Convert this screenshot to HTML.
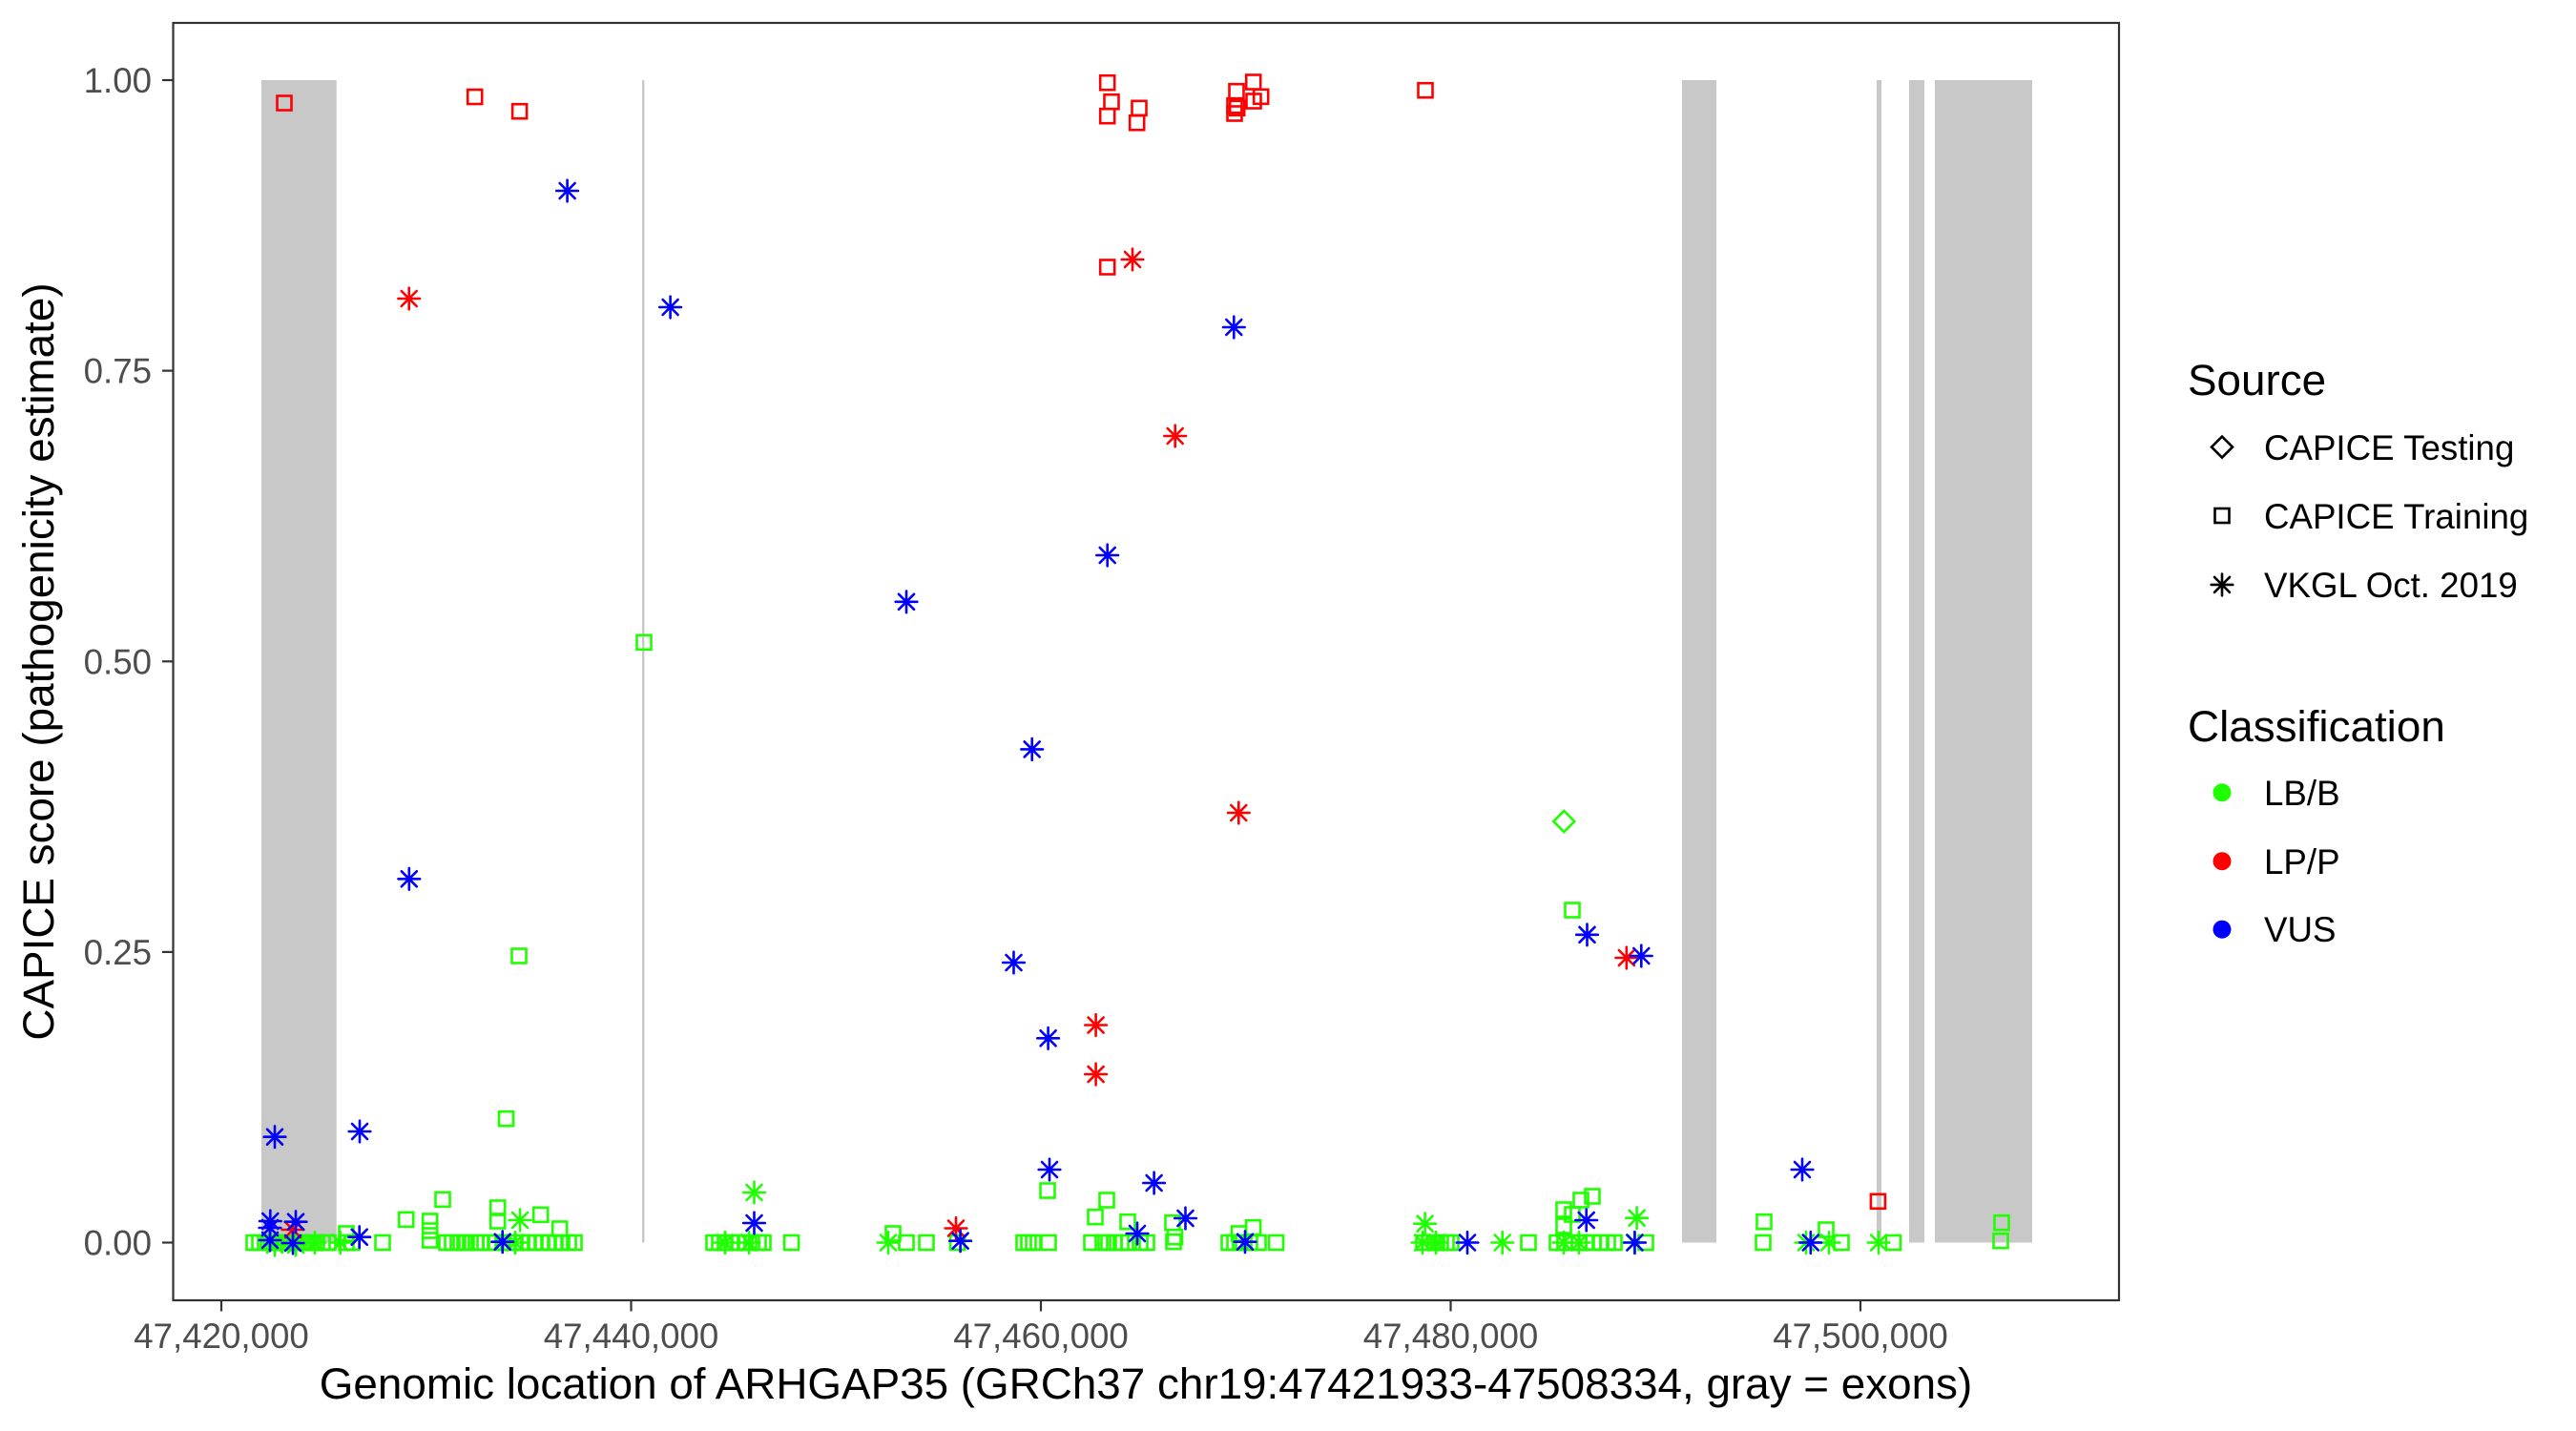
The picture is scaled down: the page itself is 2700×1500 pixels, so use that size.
<!DOCTYPE html>
<html>
<head>
<meta charset="utf-8">
<style>
html,body{margin:0;padding:0;background:#fff;}
svg{display:block;}
text{font-family:"Liberation Sans",Arial,sans-serif;}
</style>
</head>
<body>
<svg width="2700" height="1500" viewBox="0 0 2700 1500" xmlns="http://www.w3.org/2000/svg">
<defs>
  <rect id="sq" x="-7.5" y="-7.5" width="15" height="15" fill="none" stroke-width="2.6"/>
  <path id="as" d="M-11.3,0H11.3M0,-11.3V11.3M-8,-8L8,8M-8,8L8,-8" fill="none" stroke-width="2.6" stroke-linecap="round"/>
  <path id="di" d="M0,-11L11,0L0,11L-11,0Z" fill="none" stroke-width="2.6" stroke-linejoin="miter"/>
</defs>
<rect x="0" y="0" width="2700" height="1500" fill="#fff"/>

<!-- exons -->
<g fill="#c8c8c8">
  <rect x="274" y="84" width="78.7" height="1218.5"/>
  <rect x="673" y="84" width="2.4" height="1218.5"/>
  <rect x="1763" y="84" width="36" height="1218.5"/>
  <rect x="1967" y="84" width="5" height="1218.5"/>
  <rect x="2001" y="84" width="16" height="1218.5"/>
  <rect x="2028" y="84" width="102" height="1218.5"/>
</g>

<!-- green points -->
<g stroke="#1eff00">
  <use href="#di" x="1639.3" y="861"/>
  <use href="#sq" x="675" y="673.3"/>
  <use href="#sq" x="544" y="1002"/>
  <use href="#sq" x="530.5" y="1172.7"/>
  <use href="#sq" x="1648" y="954"/>
  <use href="#sq" x="1098" y="1248"/>
  <use href="#sq" x="2098" y="1281.7"/>
  <use href="#sq" x="1849" y="1280.7"/>
  <use href="#sq" x="1639" y="1268"/>
  <use href="#sq" x="1639" y="1285"/>
  <use href="#sq" x="1648" y="1273"/>
  <use href="#sq" x="1657" y="1258"/>
  <use href="#sq" x="1669" y="1254"/>
  <use href="#sq" x="1914" y="1289"/>
  <use href="#sq" x="1148" y="1275.7"/>
  <use href="#sq" x="1160" y="1258"/>
  <use href="#sq" x="1182" y="1280.7"/>
  <use href="#sq" x="1229" y="1281.7"/>
  <use href="#sq" x="1231.5" y="1296.7"/>
  <use href="#sq" x="1298.5" y="1293"/>
  <use href="#sq" x="1313.6" y="1286.7"/>
  <use href="#sq" x="936" y="1293"/>
  <use href="#sq" x="425.7" y="1278.3"/>
  <use href="#sq" x="464" y="1257.3"/>
  <use href="#sq" x="450.7" y="1280"/>
  <use href="#sq" x="450.7" y="1290"/>
  <use href="#sq" x="450.7" y="1300"/>
  <use href="#sq" x="521.7" y="1266"/>
  <use href="#sq" x="521.7" y="1280"/>
  <use href="#sq" x="566.7" y="1273.3"/>
  <use href="#sq" x="586.7" y="1288"/>
  <use href="#sq" x="363" y="1293"/>
  <use href="#sq" x="2097" y="1300.7"/>
  <!-- baseline squares -->
  <use href="#sq" x="266" y="1302.5"/><use href="#sq" x="272" y="1302.5"/><use href="#sq" x="278" y="1302.5"/><use href="#sq" x="284" y="1302.5"/><use href="#sq" x="290" y="1302.5"/><use href="#sq" x="296" y="1302.5"/><use href="#sq" x="302" y="1302.5"/><use href="#sq" x="308" y="1302.5"/><use href="#sq" x="314" y="1302.5"/><use href="#sq" x="320" y="1302.5"/><use href="#sq" x="326" y="1302.5"/><use href="#sq" x="332" y="1302.5"/><use href="#sq" x="338" y="1302.5"/><use href="#sq" x="344" y="1302.5"/>
  <use href="#sq" x="363" y="1302.5"/><use href="#sq" x="369" y="1302.5"/>
  <use href="#sq" x="401" y="1302.5"/>
  <use href="#sq" x="468" y="1302.5"/><use href="#sq" x="474" y="1302.5"/><use href="#sq" x="480" y="1302.5"/><use href="#sq" x="487" y="1302.5"/><use href="#sq" x="493" y="1302.5"/><use href="#sq" x="499" y="1302.5"/><use href="#sq" x="504" y="1302.5"/>
  <use href="#sq" x="514" y="1302.5"/><use href="#sq" x="520" y="1302.5"/><use href="#sq" x="527" y="1302.5"/><use href="#sq" x="533" y="1302.5"/><use href="#sq" x="540" y="1302.5"/><use href="#sq" x="547" y="1302.5"/><use href="#sq" x="554" y="1302.5"/><use href="#sq" x="561" y="1302.5"/><use href="#sq" x="568" y="1302.5"/><use href="#sq" x="575" y="1302.5"/><use href="#sq" x="582" y="1302.5"/><use href="#sq" x="589" y="1302.5"/><use href="#sq" x="596" y="1302.5"/><use href="#sq" x="602" y="1302.5"/>
  <use href="#sq" x="748" y="1302.5"/><use href="#sq" x="754" y="1302.5"/><use href="#sq" x="760" y="1302.5"/><use href="#sq" x="767" y="1302.5"/><use href="#sq" x="774" y="1302.5"/><use href="#sq" x="781" y="1302.5"/><use href="#sq" x="788" y="1302.5"/><use href="#sq" x="795" y="1302.5"/><use href="#sq" x="800" y="1302.5"/>
  <use href="#sq" x="829.6" y="1302.5"/>
  <use href="#sq" x="950" y="1302.5"/><use href="#sq" x="971" y="1302.5"/>
  <use href="#sq" x="1003.6" y="1302.5"/>
  <use href="#sq" x="1073" y="1302.5"/><use href="#sq" x="1078" y="1302.5"/><use href="#sq" x="1083" y="1302.5"/><use href="#sq" x="1099" y="1302.5"/>
  <use href="#sq" x="1144" y="1302.5"/><use href="#sq" x="1156" y="1302.5"/><use href="#sq" x="1162" y="1302.5"/><use href="#sq" x="1168" y="1302.5"/><use href="#sq" x="1175" y="1302.5"/><use href="#sq" x="1183" y="1302.5"/><use href="#sq" x="1195" y="1302.5"/><use href="#sq" x="1202" y="1302.5"/>
  <use href="#sq" x="1230" y="1301.7"/>
  <use href="#sq" x="1288" y="1302.5"/><use href="#sq" x="1294" y="1302.5"/><use href="#sq" x="1300" y="1302.5"/><use href="#sq" x="1310" y="1302.5"/><use href="#sq" x="1319" y="1302.5"/>
  <use href="#sq" x="1337.5" y="1302.5"/>
  <use href="#sq" x="1492" y="1302.5"/><use href="#sq" x="1498" y="1302.5"/><use href="#sq" x="1504" y="1302.5"/><use href="#sq" x="1510" y="1302.5"/><use href="#sq" x="1516" y="1302.5"/><use href="#sq" x="1521" y="1302.5"/>
  <use href="#sq" x="1602" y="1302.5"/>
  <use href="#sq" x="1632" y="1302.5"/><use href="#sq" x="1640" y="1302.5"/><use href="#sq" x="1648" y="1302.5"/><use href="#sq" x="1655" y="1302.5"/><use href="#sq" x="1662" y="1302.5"/><use href="#sq" x="1670" y="1302.5"/><use href="#sq" x="1678" y="1302.5"/><use href="#sq" x="1685" y="1302.5"/><use href="#sq" x="1692" y="1302.5"/>
  <use href="#sq" x="1725" y="1302.5"/>
  <use href="#sq" x="1848" y="1302.5"/>
  <use href="#sq" x="1930" y="1302.5"/>
  <use href="#sq" x="1984.5" y="1302.5"/>
  <!-- green asterisks -->
  <use href="#as" x="931" y="1302.5"/>
  <use href="#as" x="790.5" y="1250"/>
  <use href="#as" x="1493.6" y="1282.7"/>
  <use href="#as" x="1715.6" y="1276.7"/>
  <use href="#as" x="1574.7" y="1302.5"/>
  <use href="#as" x="1893" y="1302.5"/>
  <use href="#as" x="1917" y="1302.5"/>
  <use href="#as" x="1969" y="1302.5"/>
  <use href="#as" x="545" y="1279"/>
  <use href="#as" x="356.7" y="1302.5"/>
  <use href="#as" x="288" y="1305"/>
  <use href="#as" x="310" y="1305"/>
  <use href="#as" x="330" y="1302.5"/>
  <use href="#as" x="1491" y="1302.5"/>
  <use href="#as" x="1505" y="1302.5"/>
  <use href="#as" x="1639" y="1302.5"/>
  <use href="#as" x="1655" y="1302.5"/>
  <use href="#as" x="1713" y="1302.5"/>
  <use href="#as" x="540" y="1302.5"/>
  <use href="#as" x="760" y="1302.5"/>
  <use href="#as" x="785" y="1302.5"/>
</g>

<!-- red points -->
<g stroke="#ff0000">
  <use href="#sq" x="298" y="108"/>
  <use href="#sq" x="497.7" y="101.5"/>
  <use href="#sq" x="544.6" y="116.7"/>
  <use href="#sq" x="1160.7" y="86.7"/>
  <use href="#sq" x="1165" y="106.7"/>
  <use href="#sq" x="1160.7" y="121.7"/>
  <use href="#sq" x="1194" y="113.3"/>
  <use href="#sq" x="1191.7" y="128.7"/>
  <use href="#sq" x="1296" y="95.7"/>
  <use href="#sq" x="1313.7" y="86"/>
  <use href="#sq" x="1321.7" y="101.3"/>
  <use href="#sq" x="1314" y="106"/>
  <use href="#sq" x="1294" y="110.7"/>
  <use href="#sq" x="1296.7" y="113.3"/>
  <use href="#sq" x="1294" y="119"/>
  <use href="#sq" x="1494" y="94.7"/>
  <use href="#sq" x="1160.7" y="280"/>
  <use href="#sq" x="1968.4" y="1259.3"/>
  <use href="#as" x="428.7" y="313"/>
  <use href="#as" x="1187" y="272"/>
  <use href="#as" x="1231.7" y="457"/>
  <use href="#as" x="1298.3" y="852"/>
  <use href="#as" x="1148.6" y="1074.5"/>
  <use href="#as" x="1148.6" y="1126"/>
  <use href="#as" x="1704.8" y="1004"/>
  <use href="#as" x="1002" y="1287.5"/>
  <use href="#as" x="307" y="1289"/>
</g>

<!-- blue points -->
<g stroke="#0000ff">
  <use href="#as" x="594.6" y="200"/>
  <use href="#as" x="702.6" y="322"/>
  <use href="#as" x="950" y="630.8"/>
  <use href="#as" x="1081.7" y="785.4"/>
  <use href="#as" x="1160.7" y="582"/>
  <use href="#as" x="1293.3" y="343"/>
  <use href="#as" x="1062.5" y="1009"/>
  <use href="#as" x="1098.6" y="1088.3"/>
  <use href="#as" x="428.8" y="921.3"/>
  <use href="#as" x="288" y="1191.7"/>
  <use href="#as" x="377" y="1186"/>
  <use href="#as" x="1100" y="1226"/>
  <use href="#as" x="1209.6" y="1240"/>
  <use href="#as" x="1889" y="1226"/>
  <use href="#as" x="1663.5" y="979.8"/>
  <use href="#as" x="1720.3" y="1002"/>
  <use href="#as" x="790.5" y="1282"/>
  <use href="#as" x="1242.5" y="1277"/>
  <use href="#as" x="1192" y="1293"/>
  <use href="#as" x="1006.6" y="1300.7"/>
  <use href="#as" x="1305" y="1301.7"/>
  <use href="#as" x="1538" y="1302.5"/>
  <use href="#as" x="1662.7" y="1279"/>
  <use href="#as" x="1713.5" y="1302.5"/>
  <use href="#as" x="1897.8" y="1302.5"/>
  <use href="#as" x="283.3" y="1280"/>
  <use href="#as" x="283" y="1287"/>
  <use href="#as" x="310" y="1280.7"/>
  <use href="#as" x="283" y="1300"/>
  <use href="#as" x="307" y="1303"/>
  <use href="#as" x="376.7" y="1296.7"/>
  <use href="#as" x="526.7" y="1301.7"/>
</g>

<!-- panel border -->
<rect x="181.5" y="24" width="2039.5" height="1339" fill="none" stroke="#333333" stroke-width="2.2"/>

<!-- y ticks -->
<g stroke="#333333" stroke-width="2.2">
  <line x1="170" y1="84" x2="181.5" y2="84"/>
  <line x1="170" y1="388.6" x2="181.5" y2="388.6"/>
  <line x1="170" y1="693.3" x2="181.5" y2="693.3"/>
  <line x1="170" y1="997.9" x2="181.5" y2="997.9"/>
  <line x1="170" y1="1302.5" x2="181.5" y2="1302.5"/>
  <line x1="232" y1="1363" x2="232" y2="1374.5"/>
  <line x1="661.5" y1="1363" x2="661.5" y2="1374.5"/>
  <line x1="1091" y1="1363" x2="1091" y2="1374.5"/>
  <line x1="1520.5" y1="1363" x2="1520.5" y2="1374.5"/>
  <line x1="1950" y1="1363" x2="1950" y2="1374.5"/>
</g>
<g fill="#4d4d4d" font-size="36.7" text-anchor="end">
  <text x="159" y="97">1.00</text>
  <text x="159" y="401.6">0.75</text>
  <text x="159" y="706.3">0.50</text>
  <text x="159" y="1010.9">0.25</text>
  <text x="159" y="1315.5">0.00</text>
</g>
<g fill="#4d4d4d" font-size="36.7" text-anchor="middle">
  <text x="232" y="1413">47,420,000</text>
  <text x="661.5" y="1413">47,440,000</text>
  <text x="1091" y="1413">47,460,000</text>
  <text x="1520.5" y="1413">47,480,000</text>
  <text x="1950" y="1413">47,500,000</text>
</g>

<!-- axis titles -->
<text x="1201" y="1466" font-size="45.8" text-anchor="middle" fill="#000">Genomic location of ARHGAP35 (GRCh37 chr19:47421933-47508334, gray = exons)</text>
<text transform="translate(56,693.5) rotate(-90)" font-size="45.8" text-anchor="middle" fill="#000">CAPICE score (pathogenicity estimate)</text>

<!-- legend -->
<text x="2293" y="414" font-size="45.8" fill="#000">Source</text>
<g stroke="#000">
  <use href="#di" x="2329" y="468.6"/>
  <use href="#sq" x="2329" y="540.5"/>
  <use href="#as" x="2329" y="612.9"/>
</g>
<g font-size="36.7" fill="#000">
  <text x="2373" y="482">CAPICE Testing</text>
  <text x="2373" y="554">CAPICE Training</text>
  <text x="2373" y="626">VKGL Oct. 2019</text>
</g>
<text x="2293" y="777" font-size="45.8" fill="#000">Classification</text>
<circle cx="2329" cy="830.8" r="9.5" fill="#1eff00"/>
<circle cx="2329" cy="902.7" r="9.5" fill="#ff0000"/>
<circle cx="2329" cy="974.2" r="9.5" fill="#0000ff"/>
<g font-size="36.7" fill="#000">
  <text x="2373" y="844">LB/B</text>
  <text x="2373" y="916">LP/P</text>
  <text x="2373" y="987">VUS</text>
</g>
</svg>
</body>
</html>
